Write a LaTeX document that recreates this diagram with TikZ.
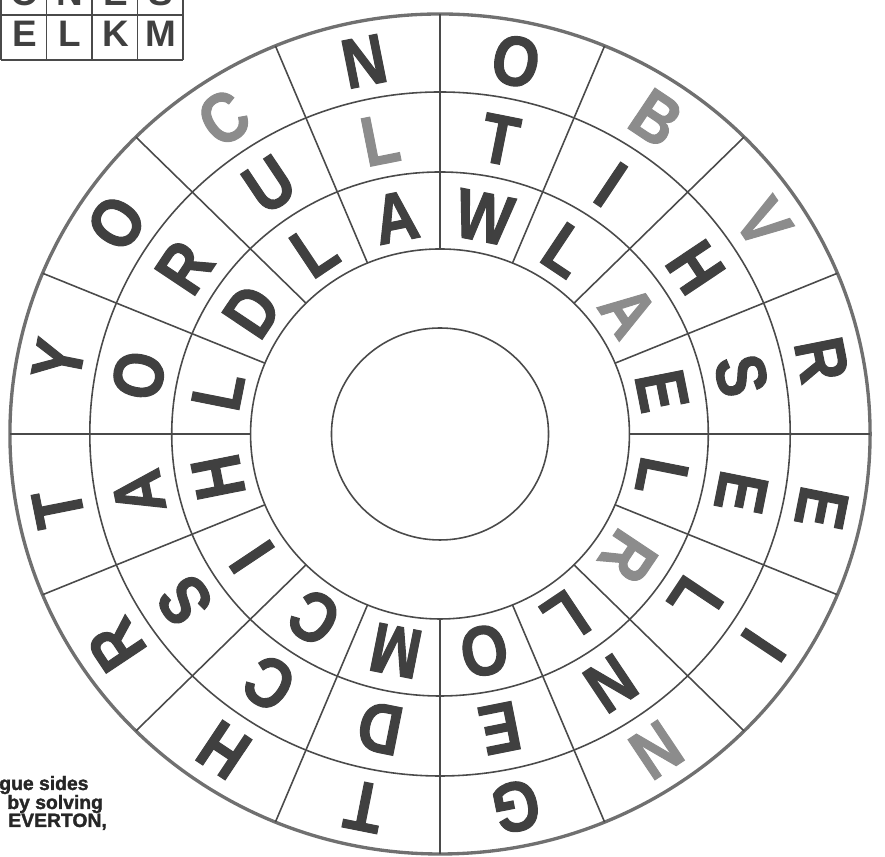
\documentclass[tikz,border=0pt]{standalone}
\usepackage{fontspec}
\setmainfont{Liberation Sans}
\newfontfamily\stampfont{Liberation Sans}[BoldFeatures={FakeBold=1.6}]
\usepackage{graphicx}
\usepackage{xcolor}
\usepackage{tikz}
\definecolor{wheelink}{HTML}{404040}
\definecolor{wheelfade}{HTML}{8C8C8C}
\definecolor{wheelline}{HTML}{4A4A4A}
\definecolor{rimgray}{HTML}{707070}
\newcommand\wheelglyph[1]{\scalebox{0.86}[1]{#1}}
\tikzset{
  ringline/.style={draw=wheelline,line width=0.9pt},
  rimline/.style={draw=rimgray,line width=1.9pt},
  spokeline/.style={draw=wheelline,line width=0.9pt},
  wheelletter/.style={font=\stampfont\fontsize{40}{40}\selectfont\bfseries,
    inner sep=0pt,anchor=center},
  gridline/.style={draw=wheelline,line width=0.8pt},
  gridletter/.style={font=\fontsize{21}{21}\selectfont\bfseries,
    text=wheelink,inner sep=0pt,anchor=base},
  notetext/.style={font=\stampfont\fontsize{11}{11}\selectfont\bfseries,
    text=black!85,inner sep=0pt,anchor=base west}
}

\begin{document}
\begin{tikzpicture}[x=0.02cm,y=0.02cm]
\useasboundingbox (0,0) rectangle (885,857);

% letter grid, top left (cut by the page)
\foreach \gx in {1,46.5,92,137.5,183}
  \draw[gridline] (\gx,797) -- (\gx,890);
\draw[gridline] (1,842) -- (183,842);
\draw[gridline] (1,797) -- (183,797);
\foreach \ch [count=\i] in {O,N,E,S}
  \node[gridletter] (top-\i) at (-21+45.5*\i,851) {\ch};
\foreach \ch [count=\i] in {E,L,K,M}
  \node[gridletter] (low-\i) at (-21+45.5*\i,810) {\ch};

% note, bottom left
\node[notetext] (note-1) at (-1,67) {gue sides};
\node[notetext] (note-2) at (7,48) {by solving};
\node[notetext] (note-3) at (8,30) {EVERTON,};

% the wheel
\begin{scope}[shift={(440,423)},xscale=1.024]
  \draw[ringline] (0,0) circle (106);
  \draw[ringline] (0,0) circle (185);
  \draw[ringline] (0,0) circle (262);
  \draw[ringline] (0,0) circle (342);
  \draw[rimline] (0,0) circle (420);
  \foreach \s in {0,22.5,...,337.5}
    \draw[spokeline] (\s:185) -- (\s:420);

  % outer ring
  \foreach \ch/\shade [count=\k from 0] in {N/wheelink,O/wheelink,B/wheelfade,
      V/wheelfade,R/wheelink,E/wheelink,I/wheelink,N/wheelfade,G/wheelink,
      T/wheelink,H/wheelink,R/wheelink,T/wheelink,Y/wheelink,O/wheelink,
      C/wheelfade}{
    \pgfmathsetmacro\a{101.25-22.5*\k}
    \node[wheelletter,text=\shade,rotate=\a-90] (outer-\k) at (\a:380)
      {\wheelglyph{\ch}};
  }
  % middle ring
  \foreach \ch/\shade [count=\k from 0] in {L/wheelfade,T/wheelink,I/wheelink,
      H/wheelink,S/wheelink,E/wheelink,L/wheelink,N/wheelink,E/wheelink,
      D/wheelink,C/wheelink,S/wheelink,A/wheelink,O/wheelink,R/wheelink,
      U/wheelink}{
    \pgfmathsetmacro\a{101.25-22.5*\k}
    \node[wheelletter,text=\shade,rotate=\a-90] (middle-\k) at (\a:300)
      {\wheelglyph{\ch}};
  }
  % inner ring
  \foreach \ch/\shade [count=\k from 0] in {A/wheelink,W/wheelink,L/wheelink,
      A/wheelfade,E/wheelink,L/wheelink,R/wheelfade,L/wheelink,O/wheelink,
      M/wheelink,C/wheelink,I/wheelink,H/wheelink,L/wheelink,D/wheelink,
      L/wheelink}{
    \pgfmathsetmacro\a{101.25-22.5*\k}
    \node[wheelletter,text=\shade,rotate=\a-90] (inner-\k) at (\a:221)
      {\wheelglyph{\ch}};
  }
\end{scope}
\end{tikzpicture}
\end{document}
